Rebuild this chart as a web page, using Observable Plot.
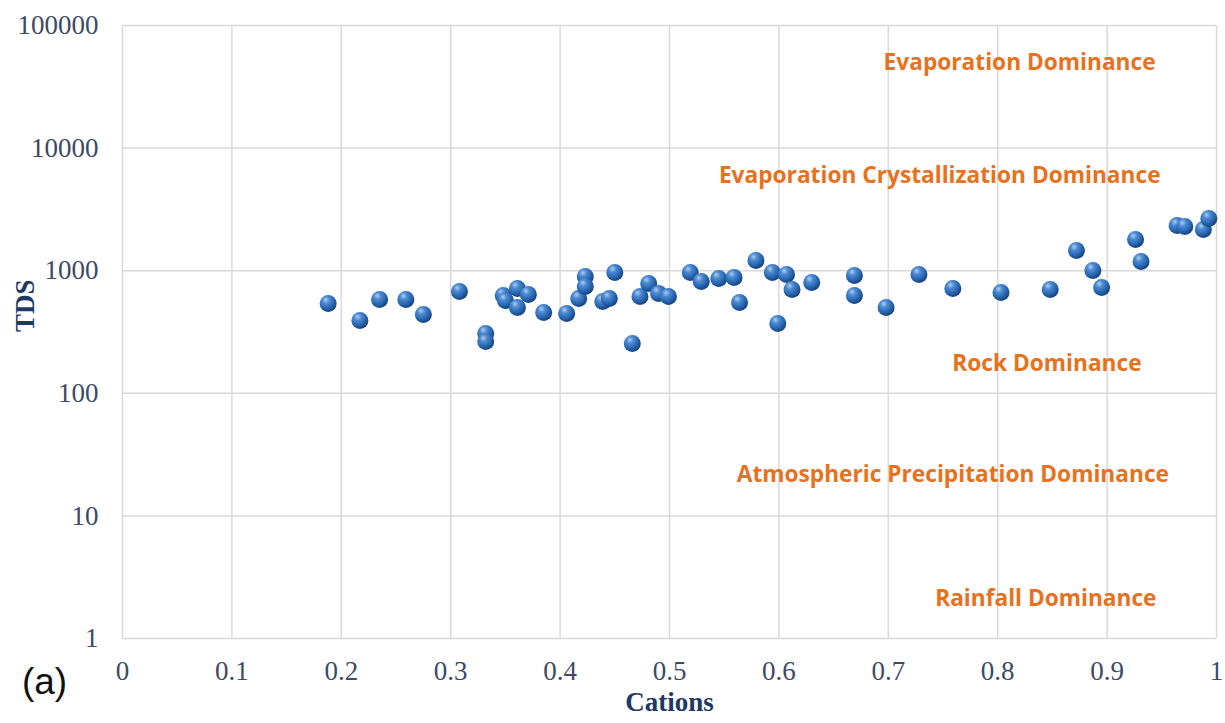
<!DOCTYPE html>
<html>
<head>
<meta charset="utf-8">
<script src="https://cdn.jsdelivr.net/npm/d3@7"></script>
<script src="https://cdn.jsdelivr.net/npm/@observablehq/plot@0.6"></script>
<style>
  html, body { margin: 0; padding: 0; background: #ffffff; }
  #chart { width: 1225px; height: 723px; }
</style>
</head>
<body>
<div id="chart"></div>
<script>
// Cation ratio of each water sample
const cations = [
  0.188, 0.217, 0.235, 0.259, 0.275, 0.308, 0.332, 0.332, 0.348, 0.350,
  0.361, 0.371, 0.361, 0.385, 0.406, 0.417, 0.423, 0.423, 0.439, 0.445,
  0.450, 0.466, 0.473, 0.481, 0.490, 0.499, 0.519, 0.529, 0.545, 0.559,
  0.564, 0.579, 0.594, 0.607, 0.612, 0.599, 0.630, 0.669, 0.669, 0.698,
  0.728, 0.759, 0.803, 0.848, 0.872, 0.887, 0.895, 0.926, 0.931, 0.964,
  0.971, 0.988, 0.993
];
// Total dissolved solids of each sample
const tds = [
  540, 393, 582, 582, 439, 677, 307, 264, 628, 571,
  716, 640, 501, 456, 448, 593, 897, 743, 561, 593,
  967, 255, 616, 787, 652, 616, 967, 817, 864, 880,
  550, 1211, 967, 931, 703, 371, 801, 914, 628, 501,
  931, 716, 664, 703, 1462, 1004, 730, 1797, 1189, 2337,
  2294, 2168, 2666
];

// Axis ticks
const xTicks = [0, 0.1, 0.2, 0.3, 0.4, 0.5, 0.6, 0.7, 0.8, 0.9, 1];
const xTickLabels = ["0", "0.1", "0.2", "0.3", "0.4", "0.5", "0.6", "0.7", "0.8", "0.9", "1"];
const yTicks = [1, 10, 100, 1000, 10000, 100000];
const yTickLabels = ["1", "10", "100", "1000", "10000", "100000"];

// Gibbs zones written on the chart
const zoneNames = [
  "Evaporation Dominance",
  "Evaporation Crystallization Dominance",
  "Rock Dominance",
  "Atmospheric Precipitation Dominance",
  "Rainfall Dominance"
];
const zoneX = [0.820, 0.747, 0.845, 0.759, 0.844];
const zoneY = [50000, 5900, 175, 21.8, 2.12];

const samples = cations.map((c, i) => ({cations: c, tds: tds[i]}));
const zones = zoneNames.map((name, i) => ({name, x: zoneX[i], y: zoneY[i]}));

const gridStyle = {stroke: "#d9d9d9", strokeOpacity: 1, strokeWidth: 1.5};
const titleColor = "#1f3864";

const chart = Plot.plot({
  width: 1225,
  height: 723,
  marginLeft: 122,
  marginRight: 9,
  marginTop: 25,
  marginBottom: 85,
  style: {
    fontFamily: "'Liberation Serif', 'Times New Roman', serif",
    fontSize: "27px",
    color: "#3d4a66",
    background: "#ffffff",
    overflow: "visible"
  },
  x: {domain: [0, 1]},
  y: {type: "log", domain: [1, 100000]},
  marks: [
    Plot.gridX(xTicks, gridStyle),
    Plot.gridY(yTicks, gridStyle),
    Plot.axisX(xTicks, {
      tickSize: 0,
      tickPadding: 22,
      tickFormat: d => xTickLabels[xTicks.indexOf(d)],
      label: null
    }),
    Plot.axisY(yTicks, {
      tickSize: 0,
      tickPadding: 24,
      tickFormat: d => yTickLabels[yTicks.indexOf(d)],
      label: null
    }),
    Plot.text(zones, {
      x: "x",
      y: "y",
      text: "name",
      fill: "#e8711c",
      fontWeight: "bold",
      fontFamily: "'Open Sans', sans-serif",
      fontSize: 22.7
    }),
    Plot.text(["TDS"], {
      frameAnchor: "left",
      dx: -97,
      rotate: -90,
      fill: titleColor,
      fontWeight: "bold",
      fontSize: 27
    }),
    Plot.text(["Cations"], {
      frameAnchor: "bottom",
      dy: 72,
      fill: titleColor,
      fontWeight: "bold",
      fontSize: 27
    }),
    Plot.text(["(a)"], {
      frameAnchor: "bottom-left",
      textAnchor: "middle",
      dx: -78,
      dy: 55,
      fill: "#111111",
      fontFamily: "'Liberation Sans', Arial, sans-serif",
      fontSize: 37
    }),
    Plot.dot(samples, {
      x: "cations",
      y: "tds",
      r: 8.5,
      fill: "url(#ball)",
      stroke: "none"
    })
  ]
});

// Shaded sphere fill for the sample markers
const ns = "http://www.w3.org/2000/svg";
const defs = document.createElementNS(ns, "defs");
defs.innerHTML = `
  <radialGradient id="ball" cx="0.38" cy="0.32" r="0.7" fx="0.36" fy="0.28">
    <stop offset="0" stop-color="#a9cdf2"/>
    <stop offset="0.3" stop-color="#4d8ad2"/>
    <stop offset="0.7" stop-color="#2563ad"/>
    <stop offset="1" stop-color="#153f78"/>
  </radialGradient>`;
chart.insertBefore(defs, chart.firstChild);

document.getElementById("chart").appendChild(chart);
</script>
</body>
</html>
